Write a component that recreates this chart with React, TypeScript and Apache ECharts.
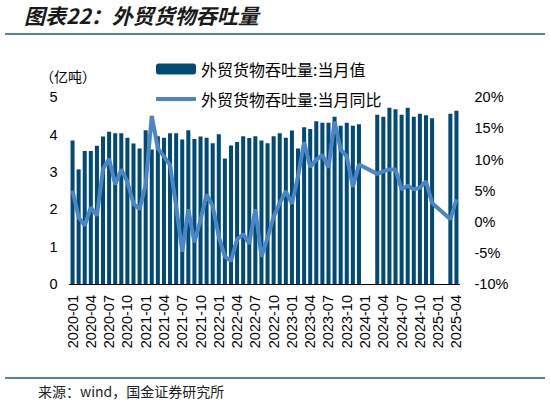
import React, { useEffect, useRef } from 'react';
import * as echarts from 'echarts';

const months = [
  '2020-01', '2020-02', '2020-03', '2020-04', '2020-05', '2020-06', '2020-07', '2020-08', '2020-09', '2020-10', '2020-11', '2020-12',
  '2021-01', '2021-02', '2021-03', '2021-04', '2021-05', '2021-06', '2021-07', '2021-08', '2021-09', '2021-10', '2021-11', '2021-12',
  '2022-01', '2022-02', '2022-03', '2022-04', '2022-05', '2022-06', '2022-07', '2022-08', '2022-09', '2022-10', '2022-11', '2022-12',
  '2023-01', '2023-02', '2023-03', '2023-04', '2023-05', '2023-06', '2023-07', '2023-08', '2023-09', '2023-10', '2023-11', '2023-12',
  '2024-01', '2024-02', '2024-03', '2024-04', '2024-05', '2024-06', '2024-07', '2024-08', '2024-09', '2024-10', '2024-11', '2024-12',
  '2025-01', '2025-02', '2025-03', '2025-04',
];

// 当月值（亿吨），1-2月无单月数据
const volume = [
  3.84, 3.07, 3.56, 3.56, 3.7, 3.95, 4.08, 4.04, 4.04, 3.92, 3.76, 3.63,
  4.12, 3.6, 3.96, 3.92, 4.04, 4.04, 3.87, 4.12, 3.88, 3.95, 3.92, 3.77,
  4.01, 3.36, 3.71, 3.8, 3.96, 3.91, 3.96, 3.84, 3.77, 3.96, 4.04, 3.92,
  4.11, 3.63, 4.2, 4.15, 4.36, 4.32, 4.32, 4.48, 4.24, 4.32, 4.24, 4.28,
  null, null, 4.53, 4.48, 4.72, 4.68, 4.53, 4.72, 4.48, 4.56, 4.52, 4.44,
  null, null, 4.56, 4.64,
];

// 当月同比（%）
const yoy = [
  5.0, 0.7, -0.6, 2.3, 1.0, 8.5, 10.1, 6.0, 8.4, 6.4, 2.9, 2.0,
  6.0, 17.0, 11.8, 10.5, 9.1, 2.5, -4.8, 2.0, -3.3, 0.3, 4.4, 2.5,
  -2.4, -5.6, -6.3, -2.8, -2.0, -3.5, 2.0, -5.6, -2.6, 0.8, 3.0, 4.9,
  2.9, 7.3, 12.8, 8.8, 10.0, 10.7, 8.7, 16.1, 11.6, 10.5, 5.6, 9.2,
  null, null, 7.7, 8.1, 8.4, 8.4, 5.2, 5.8, 5.2, 5.5, 6.5, 3.0,
  null, null, 0.4, 3.6,
];

const barName = '外贸货物吞吐量:当月值';
const lineName = '外贸货物吞吐量:当月同比';

const font = "'Liberation Sans', Arial, 'Noto Sans CJK SC', sans-serif";
const cjk = "'Noto Sans CJK SC', sans-serif";
const ruleColor = '#1f5a80';
const barColor = '#004a74';
const lineColor = '#4a86c6';

export default function App() {
  const chartRef = useRef<HTMLDivElement>(null);

  useEffect(() => {
    document.body.style.margin = '0';
    if (!chartRef.current) return;
    const chart = echarts.init(chartRef.current, null, { renderer: 'svg' });

    chart.setOption({
      animation: false,
      textStyle: { fontFamily: font },
      graphic: [
        {
          type: 'text',
          left: 24,
          top: 4,
          style: {
            text: '图表22：外贸货物吞吐量',
            font: `italic bold 21px ${cjk}`,
            fill: '#1a1a1a',
          },
        },
        {
          type: 'line',
          shape: { x1: 5, y1: 34, x2: 545, y2: 34 },
          style: { stroke: ruleColor, lineWidth: 1.5 },
        },
        {
          type: 'text',
          left: 40,
          top: 69,
          style: { text: '（亿吨）', font: `14px ${cjk}`, fill: '#000' },
        },
        {
          type: 'line',
          shape: { x1: 5, y1: 378, x2: 545, y2: 378 },
          style: { stroke: ruleColor, lineWidth: 1.5 },
        },
        {
          type: 'text',
          left: 38,
          top: 384,
          style: { text: '来源：wind，国金证券研究所', font: `14px ${cjk}`, fill: '#222' },
        },
      ],
      legend: [
        {
          data: [barName],
          left: 156,
          top: 61,
          padding: 0,
          itemWidth: 40,
          itemHeight: 11,
          textStyle: { fontSize: 16, fontFamily: cjk, color: '#000' },
        },
        {
          data: [{ name: lineName, icon: 'roundRect' }],
          left: 156,
          top: 91,
          padding: 0,
          itemWidth: 40,
          itemHeight: 4,
          itemStyle: { color: lineColor },
          textStyle: { fontSize: 16, fontFamily: cjk, color: '#000' },
        },
      ],
      grid: { left: 69.5, right: 90.5, top: 97.3, bottom: 120 },
      xAxis: {
        type: 'category',
        data: months,
        axisLine: { lineStyle: { color: '#000', width: 1.2 } },
        axisTick: { inside: true, length: 4, interval: 2, lineStyle: { color: '#000' } },
        axisLabel: { interval: 2, rotate: 90, fontSize: 14.5, color: '#000', margin: 11 },
      },
      yAxis: [
        {
          type: 'value',
          min: 0,
          max: 5,
          interval: 1,
          axisLine: { show: false },
          axisTick: { show: false },
          splitLine: { show: false },
          axisLabel: { fontSize: 14.5, color: '#000', margin: 12 },
        },
        {
          type: 'value',
          min: -10,
          max: 20,
          interval: 5,
          axisLine: { show: false },
          axisTick: { show: false },
          splitLine: { show: false },
          axisLabel: { fontSize: 14.5, color: '#000', margin: 15, formatter: '{value}%' },
        },
      ],
      series: [
        {
          name: barName,
          type: 'bar',
          data: volume,
          barWidth: '66%',
          itemStyle: { color: barColor },
        },
        {
          name: lineName,
          type: 'line',
          yAxisIndex: 1,
          data: yoy,
          connectNulls: true,
          symbol: 'none',
          lineStyle: { color: lineColor, width: 4 },
          itemStyle: { color: lineColor },
        },
      ],
    });

    return () => {
      chart.dispose();
    };
  }, []);

  return <div ref={chartRef} style={{ width: '550px', height: '404px' }} />;
}
